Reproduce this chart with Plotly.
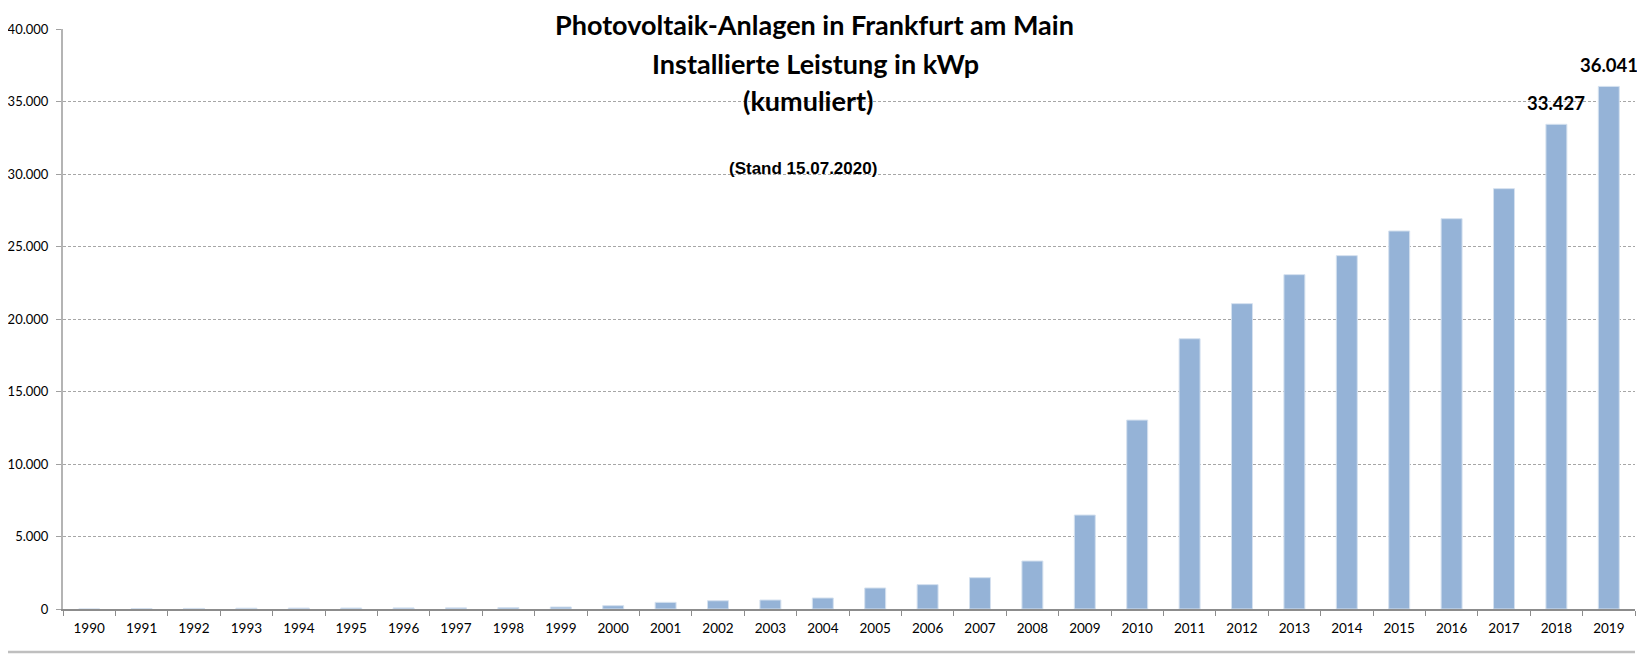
import plotly.graph_objects as go

years = [str(y) for y in range(1990, 2020)]
kwp = [0, 25, 40, 55, 65, 70, 75, 80, 100, 140,
       230, 460, 570, 620, 760, 1450, 1680, 2160, 3310, 6480,
       13030, 18640, 21060, 23060, 24370, 26070, 26920, 28990, 33427, 36041]
label_years = ["2018", "2019"]
label_texts = ["33.427", "36.041"]
title_lines = ["Photovoltaik-Anlagen in Frankfurt am Main", "Installierte Leistung in kWp", "(kumuliert)"]
y_ticks = [0, 5000, 10000, 15000, 20000, 25000, 30000, 35000, 40000]
y_tick_text = ["0", "5.000", "10.000", "15.000", "20.000", "25.000", "30.000", "35.000", "40.000"]

fig = go.Figure()
fig.add_trace(go.Bar(
    x=years, y=kwp,
    marker=dict(color="#95B3D7", line=dict(color="#D5E1EF", width=1)),
    hoverinfo="x+y",
))

for yr, txt in zip(label_years, label_texts):
    i = years.index(yr)
    fig.add_annotation(x=i, y=kwp[i], text="<b>" + txt + "</b>", showarrow=False,
                       yanchor="bottom", yshift=8,
                       font=dict(family="Lato, Carlito, Arial", size=18.5, color="#000000"))

for line, ypos, xpos in zip(title_lines, [1.0069, 0.941, 0.877], [0.478, 0.479, 0.474]):
    fig.add_annotation(xref="paper", yref="paper", x=xpos, y=ypos, yanchor="middle",
                       text="<b>" + line + "</b>", showarrow=False,
                       font=dict(family="Lato, Carlito, Arial", size=27, color="#000000"))
fig.add_annotation(xref="paper", yref="paper", x=0.471, y=0.76, yanchor="middle",
                   text="<b>(Stand 15.07.2020)</b>", showarrow=False,
                   font=dict(family="Liberation Sans, Arial", size=17, color="#000000"))

# bottom border line of the chart area
fig.add_shape(type="line", xref="paper", yref="paper", x0=-0.04, x1=1.0, y0=-0.0741, y1=-0.0741,
              line=dict(color="#BFBFBF", width=2.5))

# page body has an 8px default margin: compensate so the plot lands where the reference has it
fig.update_layout(
    width=1637, height=651,
    margin=dict(l=55, r=10, t=21, b=50, autoexpand=False),
    paper_bgcolor="white", plot_bgcolor="white",
    bargap=0.6, showlegend=False,
    font=dict(family="Carlito, Lato, Arial", size=13, color="#000000"),
)
fig.update_xaxes(
    type="category", range=[-0.5, len(years) - 0.5], automargin=False,
    showline=True, linecolor="#8C8C8C", linewidth=1.5,
    ticks="outside", tickson="boundaries", ticklen=5, tickcolor="#8C8C8C",
    tickfont=dict(family="Lato, Carlito, Arial", size=13.5, color="#000000"),
    ticklabelstandoff=6,
    showgrid=False, tickangle=0,
)
fig.update_yaxes(
    range=[0, 40000], tickvals=y_ticks, ticktext=y_tick_text, automargin=False,
    showline=True, linecolor="#B4B4B4", linewidth=2,
    ticks="outside", ticklen=5, tickcolor="#A0A0A0",
    ticklabelstandoff=5,
    showgrid=True, gridcolor="#A6A6A6", gridwidth=1, griddash="3px,2px",
    zeroline=False,
    tickfont=dict(family="Lato, Carlito, Arial", size=13, color="#000000"),
)

fig.write_html("out.html")
